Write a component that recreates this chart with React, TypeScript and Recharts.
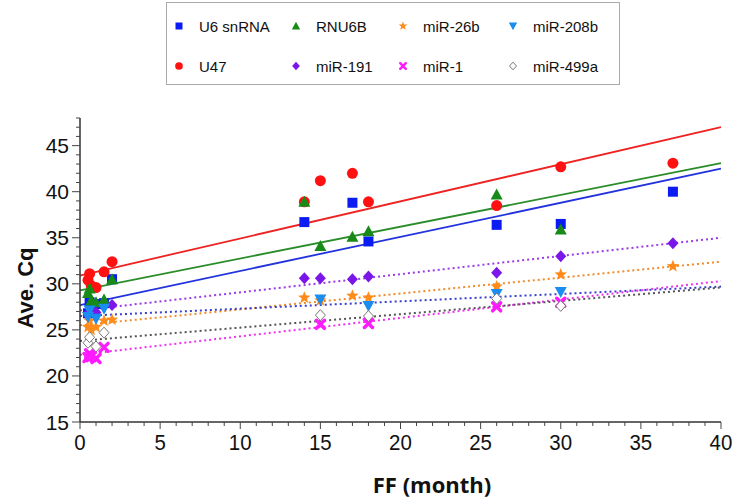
import { ReferenceLine, Scatter, ScatterChart, XAxis, YAxis, Label } from "recharts";

const MONTHS = [0.5, 0.6, 0.7, 1, 1.5, 2, 14, 15, 17, 18, 26, 30, 37];

const U6_SNRNA = [26.8, 28.0, 27.3, 27.8, 27.9, 30.5, 36.7, null, 38.8, 34.6, 36.4, 36.5, 40.0];
const U47 = [30.4, 31.1, 29.8, 29.6, 31.3, 32.4, 38.9, 41.2, 42.0, 38.9, 38.5, 42.7, 43.1];
const RNU6B = [29.0, 29.5, 28.2, 28.0, 28.3, 30.5, 38.9, 34.1, 35.1, 35.7, 39.7, 35.9, null];
const MIR_191 = [26.6, 27.0, null, 26.9, null, 27.7, 30.6, 30.6, 30.5, 30.8, 31.2, 33.0, 34.4];
const MIR_26B = [25.3, 26.0, 25.0, 25.3, 26.0, 26.1, 28.5, 28.2, 28.7, 28.5, 29.7, 31.0, 31.9];
const MIR_208B = [26.4, 27.1, null, 26.2, 27.3, null, null, 28.3, null, 27.6, 28.9, 29.1, null];
const MIR_1 = [22.0, 22.4, 22.1, 21.9, 23.1, null, null, 25.6, null, 25.7, 27.5, 28.0, null];
const MIR_499A = [23.6, 24.2, null, 23.2, 24.7, null, null, 26.6, null, 26.5, 28.4, 27.6, null];

// trend line values at FF = 0 and FF = 40
const TREND_START = { u6: 27.7, u47: 30.9, rnu6b: 29.3, m191: 27.1, m26b: 25.5, m208b: 26.5, m1: 22.3, m499a: 23.8 };
const TREND_END = { u6: 42.5, u47: 47.0, rnu6b: 43.1, m191: 35.0, m26b: 32.4, m208b: 29.7, m1: 30.3, m499a: 29.6 };

const X_LABELS = [0, 5, 10, 15, 20, 25, 30, 35, 40];
const Y_LABELS = [15, 20, 25, 30, 35, 40, 45];
const X_TICKS = Array.from({ length: 41 }, (_, i) => i);
const Y_TICKS = Array.from({ length: 34 }, (_, i) => 15 + i);

type Kind = "square" | "circle" | "triUp" | "triDown" | "star" | "diamond" | "x" | "open";

const SERIES: { key: keyof typeof TREND_START; name: string; values: (number | null)[]; kind: Kind; color: string; line: string; dotted: boolean }[] = [
  { key: "u6", name: "U6 snRNA", values: U6_SNRNA, kind: "square", color: "#0a1cf2", line: "#2233dd", dotted: false },
  { key: "u47", name: "U47", values: U47, kind: "circle", color: "#ff1111", line: "#ee2222", dotted: false },
  { key: "rnu6b", name: "RNU6B", values: RNU6B, kind: "triUp", color: "#178a17", line: "#2a8c2a", dotted: false },
  { key: "m191", name: "miR-191", values: MIR_191, kind: "diamond", color: "#7a16e8", line: "#9a3ae8", dotted: true },
  { key: "m26b", name: "miR-26b", values: MIR_26B, kind: "star", color: "#ff8c1a", line: "#f08a2a", dotted: true },
  { key: "m1", name: "miR-1", values: MIR_1, kind: "x", color: "#ff1aff", line: "#ee33ee", dotted: true },
  { key: "m208b", name: "miR-208b", values: MIR_208B, kind: "triDown", color: "#1b8cf0", line: "#3a3fcf", dotted: true },
  { key: "m499a", name: "miR-499a", values: MIR_499A, kind: "open", color: "#777777", line: "#555555", dotted: true },
];

const DRAW_ORDER = ["u6", "u47", "rnu6b", "m191", "m26b", "m208b", "m1", "m499a"];

function starPoints(cx: number, cy: number, ro: number, ri: number) {
  const pts: string[] = [];
  for (let i = 0; i < 10; i++) {
    const r = i % 2 === 0 ? ro : ri;
    const a = -Math.PI / 2 + (i * Math.PI) / 5;
    pts.push(`${cx + r * Math.cos(a)},${cy + r * Math.sin(a)}`);
  }
  return pts.join(" ");
}

function Marker({ kind, cx, cy, color, s = 1 }: { kind: Kind; cx: number; cy: number; color: string; s?: number }) {
  switch (kind) {
    case "square":
      return <rect x={cx - 5 * s} y={cy - 5 * s} width={10 * s} height={10 * s} fill={color} />;
    case "circle":
      return <circle cx={cx} cy={cy} r={5.5 * s} fill={color} />;
    case "triUp":
      return <polygon points={`${cx},${cy - 6 * s} ${cx - 6 * s},${cy + 5 * s} ${cx + 6 * s},${cy + 5 * s}`} fill={color} />;
    case "triDown":
      return <polygon points={`${cx},${cy + 6 * s} ${cx - 6 * s},${cy - 5 * s} ${cx + 6 * s},${cy - 5 * s}`} fill={color} />;
    case "star":
      return <polygon points={starPoints(cx, cy, 6.5 * s, 2.8 * s)} fill={color} />;
    case "diamond":
      return <polygon points={`${cx},${cy - 6 * s} ${cx + 5.5 * s},${cy} ${cx},${cy + 6 * s} ${cx - 5.5 * s},${cy}`} fill={color} />;
    case "x":
      return (
        <g stroke={color} strokeWidth={3.5 * s} strokeLinecap="round">
          <line x1={cx - 4 * s} y1={cy - 4 * s} x2={cx + 4 * s} y2={cy + 4 * s} />
          <line x1={cx - 4 * s} y1={cy + 4 * s} x2={cx + 4 * s} y2={cy - 4 * s} />
        </g>
      );
    case "open":
      return <polygon points={`${cx},${cy - 5.5 * s} ${cx + 5 * s},${cy} ${cx},${cy + 5.5 * s} ${cx - 5 * s},${cy}`} fill="#fff" stroke={color} strokeWidth={1} />;
  }
}

const TICK_FONT = "'Liberation Sans', Arial, sans-serif";

function YTick({ x, y, payload }: any) {
  const major = Y_LABELS.includes(payload.value);
  return (
    <g>
      <line x1={x} x2={x - (major ? 8 : 4)} y1={y} y2={y} stroke="#444" strokeWidth={1} />
      {major && (
        <text x={x - 11} y={y} textAnchor="end" dominantBaseline="central" fontSize={21} fill="#111" fontFamily={TICK_FONT}>
          {payload.value}
        </text>
      )}
    </g>
  );
}

function XTick({ x, y, payload }: any) {
  const major = X_LABELS.includes(payload.value);
  return (
    <g>
      <line x1={x} x2={x} y1={y} y2={y + (major ? 7 : 4)} stroke="#444" strokeWidth={1} />
      {major && (
        <text
          x={x}
          y={y + 21}
          textAnchor="middle"
          dominantBaseline="central"
          fontSize={22}
          fill="#111"
          fontFamily={TICK_FONT}
          transform={`translate(${x} 0) scale(0.93 1) translate(${-x} 0)`}
        >
          {payload.value}
        </text>
      )}
    </g>
  );
}

function LegendBox() {
  const cols = [
    ["u6", "u47"],
    ["rnu6b", "m191"],
    ["m26b", "m1"],
    ["m208b", "m499a"],
  ];
  const colX = [178, 295, 402, 512];
  const rowY = [25, 65];
  return (
    <div style={{ position: "absolute", left: 166, top: 2, width: 454, height: 83, border: "1px solid #aaa", background: "#fff", boxSizing: "border-box" }}>
      <svg width={454} height={83} style={{ position: "absolute", left: 0, top: 0 }}>
        {cols.map((col, ci) =>
          col.map((k, ri) => {
            const s = SERIES.find((d) => d.key === k)!;
            const mx = colX[ci] - 166;
            const my = rowY[ri] - 2;
            return (
              <g key={k}>
                <Marker kind={s.kind} cx={mx} cy={my} color={s.color} s={0.7} />
                <text x={mx + 20} y={my} dominantBaseline="central" fontSize={15} fill="#111" fontFamily="'Liberation Sans', Arial, sans-serif">
                  {s.name}
                </text>
              </g>
            );
          }),
        )}
      </svg>
    </div>
  );
}

export default function App() {
  const ordered = DRAW_ORDER.map((k) => SERIES.find((s) => s.key === k)!);
  return (
    <div style={{ position: "absolute", left: 0, top: 0, width: 737, height: 503, background: "#fff" }}>
      <ScatterChart width={737} height={503} margin={{ top: 118, right: 16, bottom: 41, left: 30 }}>
        <XAxis
          type="number"
          dataKey="x"
          domain={[0, 40]}
          ticks={X_TICKS}
          interval={0}
          tick={<XTick />}
          tickLine={false}
          tickSize={0}
          tickMargin={0}
          height={40}
          axisLine={{ stroke: "#333", strokeWidth: 1.5 }}
        >
          <Label
            content={() => (
              <text x={432} y={493} textAnchor="middle" fontSize={22} fontWeight="bold" fill="#111" fontFamily="'Open Sans', sans-serif">
                FF (month)
              </text>
            )}
          />
        </XAxis>
        <YAxis
          type="number"
          dataKey="y"
          domain={[15, 48]}
          ticks={Y_TICKS}
          interval={0}
          tick={<YTick />}
          tickLine={false}
          tickSize={0}
          tickMargin={0}
          width={50}
          axisLine={{ stroke: "#333", strokeWidth: 1.5 }}
        >
          <Label
            content={() => (
              <text x={25} y={288} transform="rotate(-90 25 288)" textAnchor="middle" dominantBaseline="central" fontSize={22} fontWeight="bold" fill="#111" fontFamily="'Liberation Sans', Arial, sans-serif">
                Ave. Cq
              </text>
            )}
          />
        </YAxis>
        {ordered.map((s) => (
          <ReferenceLine
            key={`t-${s.key}`}
            segment={[
              { x: 0, y: TREND_START[s.key] },
              { x: 40, y: TREND_END[s.key] },
            ]}
            stroke={s.line}
            strokeWidth={s.dotted ? 2 : 1.8}
            strokeDasharray={s.dotted ? "2 3" : undefined}
          />
        ))}
        {ordered.map((s) => (
          <Scatter
            key={s.key}
            name={s.name}
            data={MONTHS.map((m, i) => ({ x: m, y: s.values[i] })).filter((p) => p.y != null)}
            isAnimationActive={false}
            shape={(p: any) => <Marker kind={s.kind} cx={p.cx} cy={p.cy} color={s.color} />}
          />
        ))}
      </ScatterChart>
      <LegendBox />
    </div>
  );
}
